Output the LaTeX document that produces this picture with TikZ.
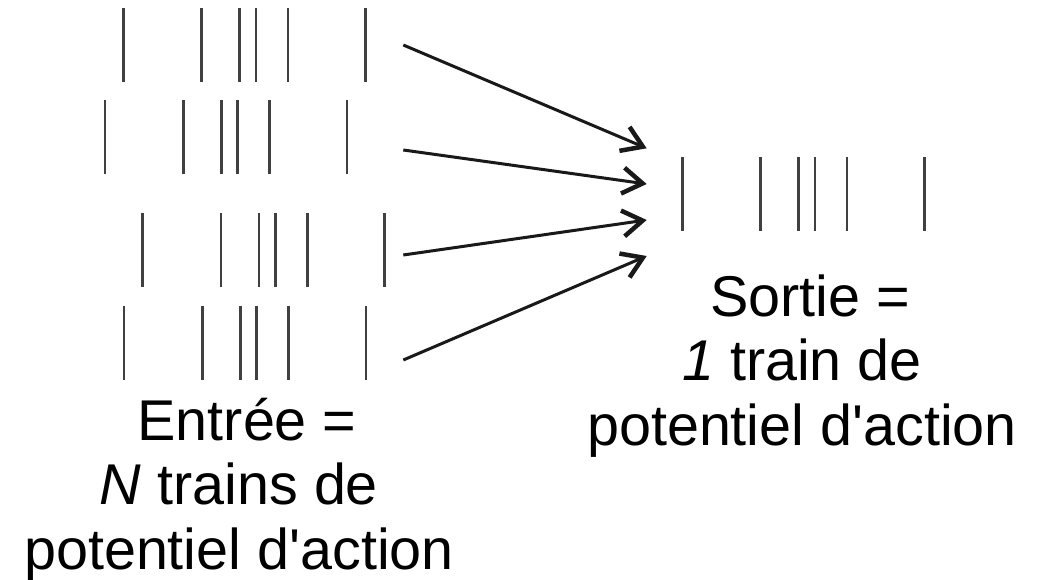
\documentclass[tikz,border=0pt]{standalone}
\usepackage{fontspec}
\setmainfont{Liberation Sans}
\usetikzlibrary{arrows.meta}
\begin{document}
\begin{tikzpicture}[x=1pt,y=-1pt,
  spike/.style={line width=2.6pt, draw=black!75},
  conn/.style={line width=3pt, black!90, -{Straight Barb[length=20pt,width=26pt,line width=4.5pt]}},
  lbl/.style={align=center, inner sep=0pt, font=\fontsize{57.5}{64.5}\selectfont},
  pics/train/.style={code={
    \foreach \o in {0,78.2,116.4,132.7,164.7,242}{\draw[spike] (\o,0) -- (\o,74);}
  }}
]
\useasboundingbox (0,0) rectangle (1043,580);
% input trains
\pic at (123.3,8) {train};
\pic at (105,100.5) {train};
\pic at (142.7,213) {train};
\pic at (124,306) {train};
% output train
\pic at (682.3,157) {train};
% connector ends
\coordinate (s1) at (403.3,45);
\coordinate (s2) at (403.3,150);
\coordinate (s3) at (403.3,255);
\coordinate (s4) at (403.3,360);
\coordinate (e1) at (646.7,148.3);
\coordinate (e2) at (646.7,184);
\coordinate (e3) at (646.7,220);
\coordinate (e4) at (646.7,256);
\draw[conn] (s1) -- (e1);
\draw[conn] (s2) -- (e2);
\draw[conn] (s3) -- (e3);
\draw[conn] (s4) -- (e4);
% labels (base anchor = baseline of the last line)
\node[lbl, anchor=base] (inlbl) at (239,569) {\hspace*{0.28em}Entrée =\\\textit{N} trains de\\potentiel d\textquotesingle action};
\node[lbl, anchor=base] (outlbl) at (802,445) {\hspace*{0.28em}Sortie =\\\textit{1} train de\\potentiel d\textquotesingle action};
\end{tikzpicture}
\end{document}
